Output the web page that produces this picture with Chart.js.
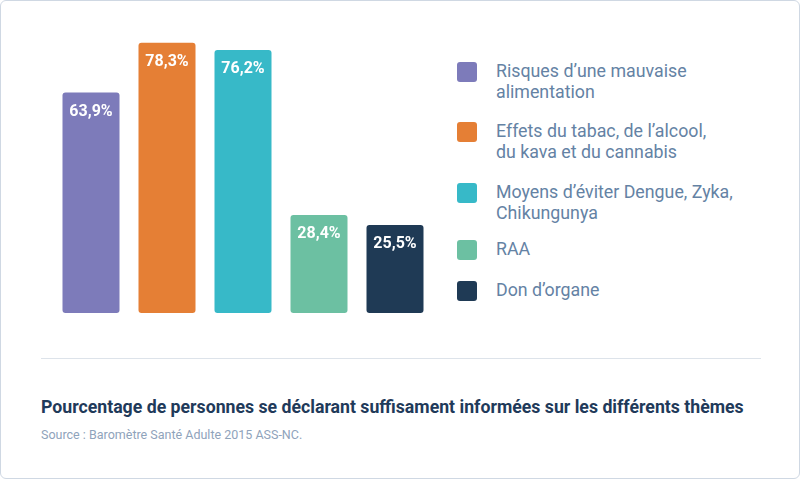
<!DOCTYPE html>
<html>
<head>
<meta charset="utf-8">
<script src="https://cdn.jsdelivr.net/npm/chart.js@4/dist/chart.umd.min.js"></script>
<style>
  html, body { margin: 0; padding: 0; background: #fff; }
  #card {
    position: absolute; left: 0; top: 0; width: 798px; height: 477px;
    border: 1px solid #cfd8e3; border-radius: 6px; background: #fff;
    font-family: Roboto, "Open Sans", sans-serif;
  }
  #chartBox { position: absolute; left: 0; top: 0; width: 450px; height: 340px; }
  #legend { position: absolute; left: 455px; top: 0; width: 340px; }
  .item { position: absolute; left: 0; }
  .swatch { position: absolute; left: 1px; width: 20px; height: 20px; border-radius: 3px; }
  .label { position: absolute; left: 40px; width: 300px; font-size: 17.8px; line-height: 21px; color: #6482a4; white-space: nowrap; }
  #rule { position: absolute; left: 40px; top: 357px; width: 720px; height: 1px; background: #dde3ea; }
  #title { position: absolute; left: 40px; top: 396px; font-size: 17.7px; font-weight: 700; color: #1f3a5a; white-space: nowrap; }
  #source { position: absolute; left: 40px; top: 426px; font-size: 12.5px; color: #8fa3bb; white-space: nowrap; }
</style>
</head>
<body>
<div id="card">
  <div id="chartBox"><canvas id="chart"></canvas></div>
  <div id="legend"></div>
  <div id="rule"></div>
  <div id="title">Pourcentage de personnes se déclarant suffisament informées sur les différents thèmes</div>
  <div id="source">Source : Baromètre Santé Adulte 2015 ASS-NC.</div>
</div>
<script>
// data
let categories = [
  ["Risques d’une mauvaise", "alimentation"],
  ["Effets du tabac, de l’alcool,", "du kava et du cannabis"],
  ["Moyens d’éviter Dengue, Zyka,", "Chikungunya"],
  ["RAA"],
  ["Don d’organe"]
];
let values = [63.9, 78.3, 76.2, 28.4, 25.5];
let colors = ['#7d7bba', '#e57f35', '#37b9c8', '#6cc0a2', '#1f3a55'];

// legend (html, labels wrap on two lines)
let legendTops = [61, 121, 182, 239, 280];
categories.forEach((lines, i) => {
  let item = document.createElement('div');
  item.className = 'item';
  item.style.top = legendTops[i] + 'px';
  item.innerHTML = `<div class="swatch" style="background:${colors[i]}"></div>` +
    `<div class="label" style="top:-2px">${lines.join('<br>')}</div>`;
  document.getElementById('legend').appendChild(item);
});

// value labels inside the bars
const valueLabels = {
  id: 'valueLabels',
  afterDatasetsDraw(chart) {
    let ctx = chart.ctx;
    let meta = chart.getDatasetMeta(0);
    ctx.save();
    ctx.fillStyle = '#fff';
    ctx.font = 'bold 16px Roboto';
    ctx.textAlign = 'center';
    ctx.textBaseline = 'middle';
    meta.data.forEach((bar, i) => {
      ctx.fillText(values[i].toFixed(1).replace('.', ',') + '%', bar.x, bar.y + 19);
    });
    ctx.restore();
  }
};

new Chart(document.getElementById('chart'), {
  type: 'bar',
  data: {
    labels: categories.map(c => c.join(' ')),
    datasets: [{
      data: values,
      backgroundColor: colors,
      borderRadius: 3,
      borderSkipped: false,
      barPercentage: 0.75,
      categoryPercentage: 1
    }]
  },
  options: {
    responsive: true,
    maintainAspectRatio: false,
    animation: false,
    layout: { padding: { left: 52, right: 18, top: 36, bottom: 28 } },
    plugins: { legend: { display: false }, tooltip: { enabled: false } },
    scales: {
      x: { display: false },
      y: { display: false, min: 0, max: 80 }
    }
  },
  plugins: [valueLabels]
});
</script>
</body>
</html>
